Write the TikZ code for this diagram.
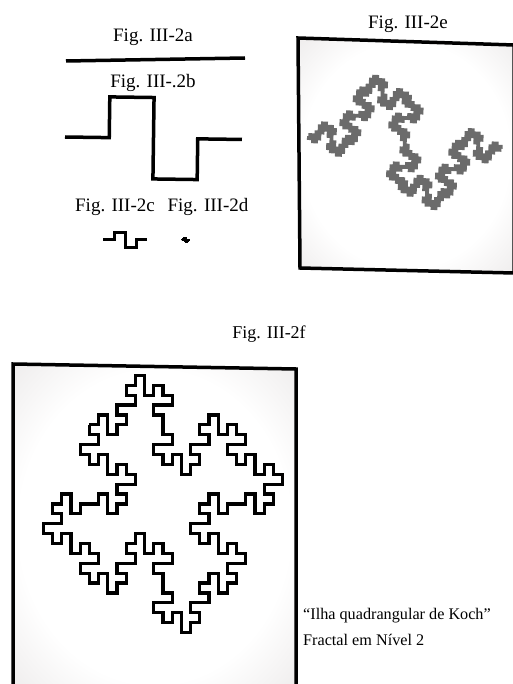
\documentclass[tikz,border=0pt]{standalone}
\usepackage{fontspec}
\setmainfont{Liberation Serif}
\usetikzlibrary{lindenmayersystems}

\pgfdeclarelindenmayersystem{Koch quadratic}{
  \rule{F -> F+F-F-FF+F+F-F}
}
\pgfdeclareradialshading{vignette}{\pgfpoint{0bp}{0bp}}{%
  rgb(0bp)=(1,1,1); rgb(24bp)=(1,1,1); rgb(40bp)=(0.91,0.9,0.9); rgb(50bp)=(0.8,0.79,0.8)}

\tikzset{
  figlabel/.style={font=\fontsize{19}{22}\selectfont},
  captext/.style={font=\fontsize{16.2}{19}\selectfont, anchor=west, inner sep=0pt},
  figframe/.style={line width=3.5pt, shading=vignette, shade},
  kochline/.style={line width=#1, line join=miter},
}

\begin{document}
\begin{tikzpicture}[x=1pt, y=1pt]
  \useasboundingbox (0,0) rectangle (512,-684);

  % Initiator and generator
  \node[figlabel] (laba) at (153,-37) {Fig. III-2a};
  \draw[line width=3.5pt] (66,-61) -- (245,-58);
  \node[figlabel] (labb) at (153,-83) {Fig. III-.2b};
  \begin{scope}[shift={(65,-137)}, rotate=-0.8, yscale=0.92]
    \draw[kochline=3.5pt, lindenmayer system={Koch quadratic, axiom=F, order=1, step=44.25pt, angle=90}] (0,0) lindenmayer system;
  \end{scope}

  % Small copies
  \node[figlabel] (labc) at (115,-207) {Fig. III-2c};
  \node[figlabel] (labd) at (208,-207) {Fig. III-2d};
  \begin{scope}[shift={(103,-240)}, yscale=0.7]
    \draw[kochline=3pt, lindenmayer system={Koch quadratic, axiom=F, order=1, step=11pt, angle=90}] (0,0) lindenmayer system;
  \end{scope}
  \begin{scope}[shift={(182,-240)}]
    \draw[kochline=2pt, lindenmayer system={Koch quadratic, axiom=F, order=2, step=0.45pt, angle=90}] (0,0) lindenmayer system;
  \end{scope}

  % Curve, level 3
  \node[figlabel] (labe) at (408,-24) {Fig. III-2e};
  \draw[figframe] (298,-38) -- (514,-45) -- (514,-273) -- (300,-268) -- cycle;
  \begin{scope}[shift={(307,-138)}, rotate=-2.6]
    \draw[kochline=3.8pt, black!58, lindenmayer system={Koch quadratic, axiom=F, order=3, step=3.06pt, angle=90}] (0,0) lindenmayer system;
  \end{scope}

  % Island, level 2
  \node[figlabel, font=\fontsize{18}{21}\selectfont] (labf) at (269,-334) {Fig. III-2f};
  \draw[figframe] (13,-364) -- (296,-369) -- (296,-690) -- (13,-690) -- cycle;
  \begin{scope}[shift={(89.4,-424.8)}, yscale=1.075]
    \draw[kochline=3.2pt, lindenmayer system={Koch quadratic, axiom=F-F-F-F, order=2, step=9.2pt, angle=90}] (0,0) lindenmayer system;
  \end{scope}
  \node[captext] (capa) at (303,-616) {“Ilha quadrangular de Koch”};
  \node[captext] (capb) at (303,-640) {Fractal em Nível 2};
\end{tikzpicture}
\end{document}
